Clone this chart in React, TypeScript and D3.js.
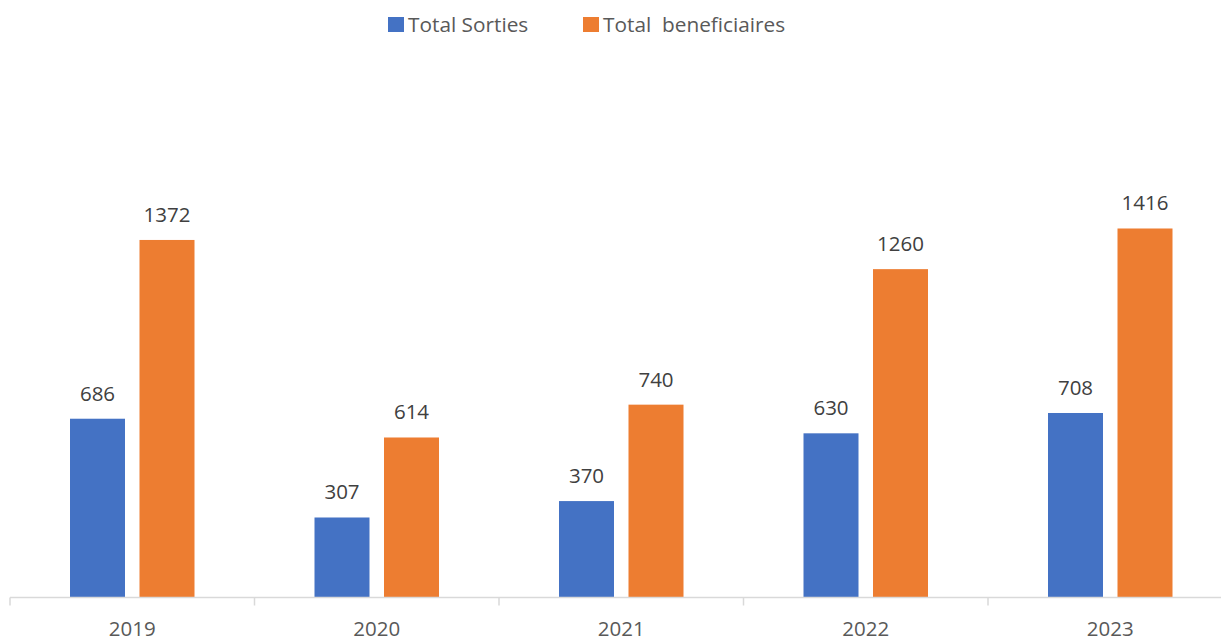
import React from "react";
import * as d3 from "d3";

const years = ["2019", "2020", "2021", "2022", "2023"];
const sorties = [686, 307, 370, 630, 708];
const beneficiaires = [1372, 614, 740, 1260, 1416];
const seriesNames = ["Total Sorties", "Total  beneficiaires"];
const seriesColors = ["#4472C4", "#ED7D31"];

const W = 1221;
const H = 637;
const FONT = "'Open Sans', sans-serif";

export default function App() {
  const x = d3.scaleBand<string>().domain(years).range([10, 1232.5]).paddingInner(0).paddingOuter(0);
  const baseline = 597.5;
  const y = d3.scaleLinear().domain([0, 1600]).range([baseline, baseline - 1600 * 0.2606]);
  const barW = 55;
  const off = 34.75;
  const series = [sorties, beneficiaires];
  const tickXs = years.map((yr) => x(yr)!).concat([x(years[years.length - 1])! + x.bandwidth()]);

  return (
    <svg width={W} height={H} style={{ position: "absolute", left: 0, top: 0, background: "#fff" }}>
      <rect x={0} y={0} width={W} height={H} fill="#fff" />
      {/* legend */}
      <g fontFamily={FONT} fontSize={20.8} fill="#595959">
        <rect x={388} y={17} width={16} height={15} fill={seriesColors[0]} />
        <text x={408} y={32} style={{ whiteSpace: "pre" }}>{seriesNames[0]}</text>
        <rect x={583} y={17} width={16} height={15} fill={seriesColors[1]} />
        <text x={603} y={32} style={{ whiteSpace: "pre" }} xmlSpace="preserve">{seriesNames[1]}</text>
      </g>
      {/* bars */}
      {series.map((vals, si) => (
        <g key={si}>
          {vals.map((v, i) => {
            const cx = x(years[i])! + x.bandwidth() / 2 + (si === 0 ? -off : off);
            return (
              <g key={i}>
                <rect x={cx - barW / 2} y={y(v)} width={barW} height={baseline - y(v)} fill={seriesColors[si]} />
                <text x={cx} y={y(v) - 18} textAnchor="middle" fontFamily={FONT} fontSize={20.5} fill="#404040">
                  {v}
                </text>
              </g>
            );
          })}
        </g>
      ))}
      {/* axis */}
      <line x1={10} x2={W} y1={baseline} y2={baseline} stroke="#D9D9D9" strokeWidth={1.5} />
      {tickXs.map((tx, i) => (
        <line key={i} x1={tx} x2={tx} y1={baseline} y2={baseline + 8} stroke="#D9D9D9" strokeWidth={1.5} />
      ))}
      {years.map((yr) => (
        <text key={yr} x={x(yr)! + x.bandwidth() / 2} y={636} textAnchor="middle" fontFamily={FONT} fontSize={20.5} fill="#595959">
          {yr}
        </text>
      ))}
    </svg>
  );
}
